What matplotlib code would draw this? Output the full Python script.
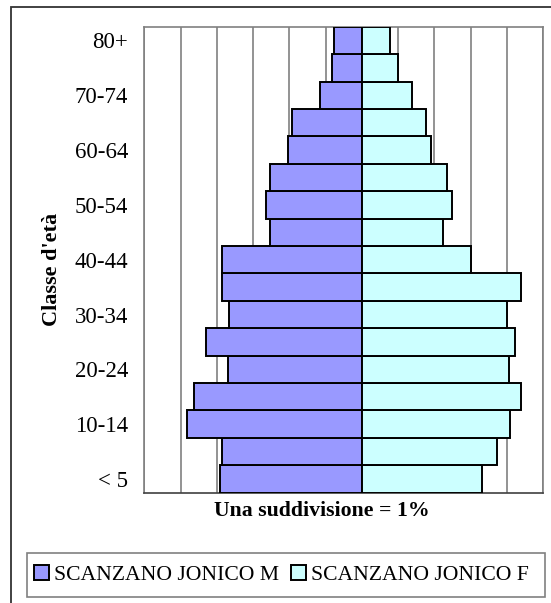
import matplotlib.pyplot as plt
from matplotlib.patches import Rectangle, Patch

plt.rcParams['font.family'] = ['Liberation Serif', 'DejaVu Serif']

# Age classes from youngest to oldest
classes = ["< 5", "5-9", "10-14", "15-19", "20-24", "25-29", "30-34", "35-39",
           "40-44", "45-49", "50-54", "55-59", "60-64", "65-69", "70-74",
           "75-79", "80+"]

# Share of population per class (%)
males = [3.92, 3.86, 4.81, 4.64, 3.70, 4.31, 3.65, 3.87,
         3.87, 2.53, 2.64, 2.54, 2.04, 1.93, 1.15, 0.82, 0.77]
females = [3.33, 3.72, 4.10, 4.40, 4.05, 4.22, 4.00, 4.40,
           3.00, 2.23, 2.50, 2.34, 1.90, 1.78, 1.39, 1.01, 0.79]

label_m = "SCANZANO JONICO M"
label_f = "SCANZANO JONICO F"
col_m = "#9999FF"
col_f = "#CCFFFF"

W, H = 551, 603
fig = plt.figure(figsize=(W / 100, H / 100), dpi=100)
ax = fig.add_axes([144.3 / W, 1 - 492.7 / H, (543 - 144.3) / W, (492.7 - 26.7) / H])

pos = range(len(classes))
ax.barh(pos, [-v for v in males], height=1.0, color=col_m, edgecolor="black",
        linewidth=1.4, zorder=3)
ax.barh(pos, females, height=1.0, color=col_f, edgecolor="black",
        linewidth=1.4, zorder=3)

ax.set_xlim(-6, 5)
ax.set_ylim(-0.5, len(classes) - 0.5)
ax.set_xticks(range(-6, 6))
ax.set_xticklabels([])
ax.tick_params(axis="x", length=0)
ax.grid(axis="x", color="#808080", linewidth=1.2, zorder=0)

ax.set_yticks(list(pos)[::2])
ax.set_yticklabels(classes[::2], fontsize=16.5)
ax.tick_params(axis="y", length=0, pad=11.5)

for s in ax.spines.values():
    s.set_color("#808080")
    s.set_linewidth(1.2)
ax.spines["bottom"].set_color("#404040")

ax.set_xlabel("Una suddivisione = 1%", fontsize=15.7, fontweight="bold")
ax.xaxis.set_label_coords((322 - 144.3) / 398.7, -0.018)
ax.set_ylabel("Classe d'età", fontsize=16, fontweight="bold")
ax.yaxis.set_label_coords(-0.207, 0.48)

# outer chart frame
fig.patches.append(Rectangle((11 / W, -0.1), 1.2, 1 - 7 / H + 0.1,
                             transform=fig.transFigure, fill=False,
                             edgecolor="#333333", linewidth=1.3))

# legend box
fig.patches.append(Rectangle((27 / W, 1 - 597 / H), 518 / W, 44 / H,
                             transform=fig.transFigure, fill=False,
                             edgecolor="#808080", linewidth=1.2))
handles = [Patch(facecolor=col_m, edgecolor="black", linewidth=1.4),
           Patch(facecolor=col_f, edgecolor="black", linewidth=1.4)]
fig.legend(handles, [label_m, label_f], loc="center left",
           bbox_to_anchor=(34 / W, 1 - 575 / H), ncol=2, fontsize=15.6,
           frameon=False, handlelength=0.7, handleheight=0.7,
           handletextpad=0.23, columnspacing=0.55, borderpad=0,
           borderaxespad=0)

fig.savefig("out.png", dpi=100)
